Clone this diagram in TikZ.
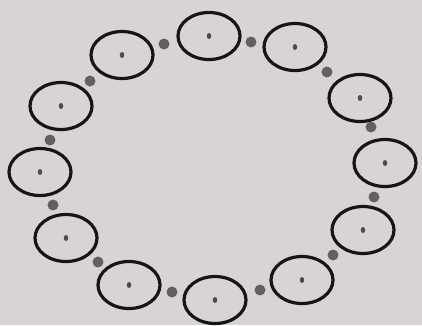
\documentclass[tikz,border=0pt]{standalone}
\usetikzlibrary{shapes.geometric}
\definecolor{paper}{RGB}{216,212,212}
\definecolor{ink}{RGB}{22,20,20}
\definecolor{linkdot}{RGB}{100,96,96}
\definecolor{coredot}{RGB}{80,76,76}
\begin{document}
\begin{tikzpicture}[x=1pt,y=-1pt,
  ring/.style={draw=ink, line width=3.2pt, ellipse, minimum width=62pt, minimum height=47pt, inner sep=0pt},
  core/.style={fill=coredot, ellipse, minimum width=4.5pt, minimum height=6pt, inner sep=0pt},
  link/.style={fill=linkdot, circle, minimum size=11pt, inner sep=0pt}]
\fill[paper] (0,0) rectangle (422,325);
\useasboundingbox (0,0) rectangle (422,325);
\foreach \n/\x/\y in {1/209/36, 2/295/47, 3/360/98, 4/385/163, 5/363/230, 6/302/280,
                      7/215/300, 8/129/285, 9/66/238, 10/40/172, 11/61/106, 12/122/55} {
  \node[ring] (e\n) at (\x,\y) {};
  \node[core] (c\n) at (\x,\y) {};
}
\foreach \n/\x/\y in {1/251/42, 2/327/72, 3/371/127, 4/374/197, 5/333/255, 6/260/290,
                      7/172/292, 8/98/262, 9/53/205, 10/50/140, 11/90/81, 12/164/44} {
  \node[link] (d\n) at (\x,\y) {};
}
\end{tikzpicture}
\end{document}
